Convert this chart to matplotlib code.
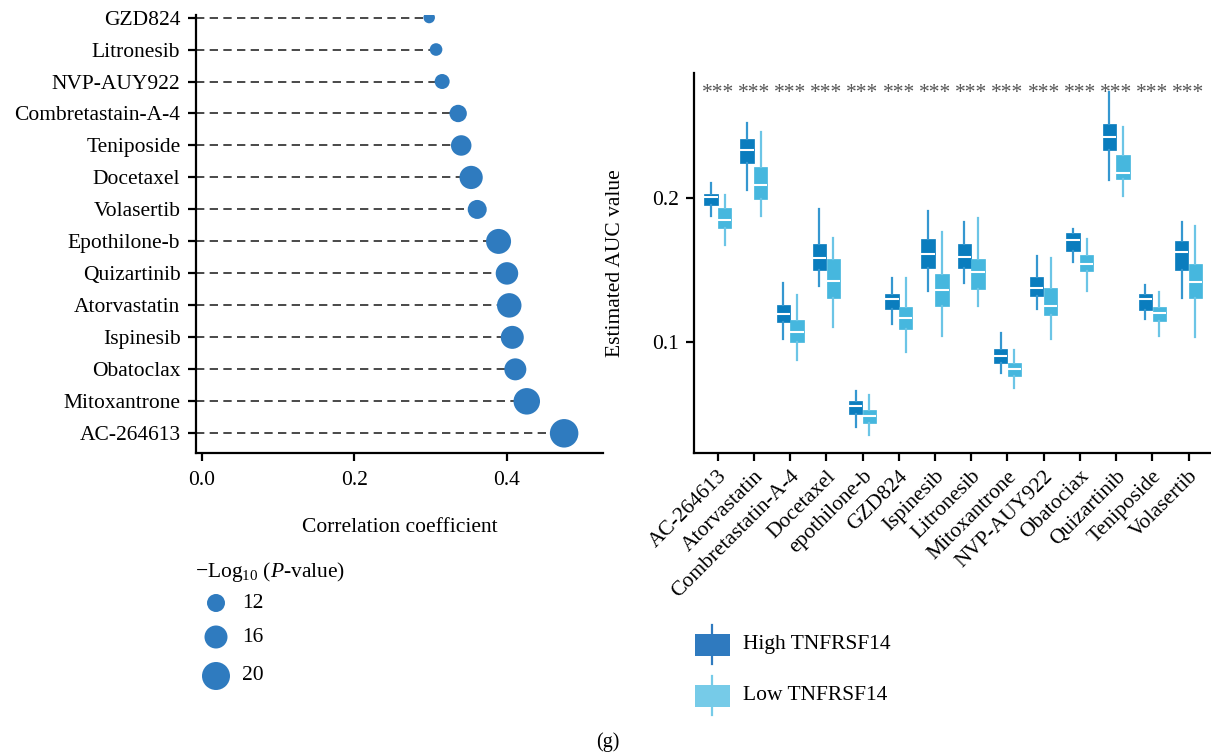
import matplotlib
matplotlib.use("Agg")
import matplotlib.pyplot as plt
import matplotlib.transforms as mtransforms
from matplotlib.patches import Rectangle

plt.rcParams["font.family"] = ["Liberation Serif", "DejaVu Serif"]
plt.rcParams["mathtext.fontset"] = "custom"
plt.rcParams["mathtext.rm"] = "Liberation Serif"
plt.rcParams["mathtext.it"] = "Liberation Serif:italic"

# ---------------------------------------------------------------------------
# Data: correlation lollipop (top to bottom)
# ---------------------------------------------------------------------------
corr_drugs = ["GZD824", "Litronesib", "NVP-AUY922", "Combretastain-A-4",
              "Teniposide", "Docetaxel", "Volasertib", "Epothilone-b",
              "Quizartinib", "Atorvastatin", "Ispinesib", "Obatoclax",
              "Mitoxantrone", "AC-264613"]
corr_values = [0.298, 0.307, 0.315, 0.336, 0.340, 0.353, 0.361, 0.389,
               0.400, 0.403, 0.407, 0.411, 0.426, 0.475]
neglog10_p = [6.8, 7.7, 9.6, 11.5, 14.0, 16.2, 12.8, 17.6,
              15.6, 17.2, 16.0, 15.2, 18.8, 20.4]
size_legend_values = [12, 16, 20]
corr_ticks = [0.0, 0.2, 0.4]

# ---------------------------------------------------------------------------
# Data: estimated AUC boxes (whislo, q1, med, q3, whishi)
# ---------------------------------------------------------------------------
auc_drugs = ["AC-264613", "Atorvastatin", "Combretastatin-A-4", "Docetaxel",
             "epothilone-b", "GZD824", "Ispinesib", "Litronesib",
             "Mitoxantrone", "NVP-AUY922", "Obatociax", "Quizartinib",
             "Teniposide", "Volasertib"]
high_whislo = [0.187, 0.205, 0.102, 0.139, 0.041, 0.112, 0.135, 0.141, 0.078, 0.123, 0.155, 0.212, 0.116, 0.130]
high_q1 = [0.195, 0.224, 0.114, 0.150, 0.050, 0.123, 0.151, 0.151, 0.085, 0.132, 0.163, 0.233, 0.122, 0.150]
high_med = [0.2007, 0.233, 0.119, 0.158, 0.0553, 0.1294, 0.161, 0.159, 0.0903, 0.137, 0.1706, 0.2424, 0.1294, 0.162]
high_q3 = [0.2025, 0.241, 0.1255, 0.168, 0.0588, 0.1331, 0.171, 0.168, 0.0949, 0.1447, 0.1755, 0.2514, 0.1331, 0.170]
high_whishi = [0.210, 0.252, 0.1405, 0.192, 0.0657, 0.144, 0.191, 0.183, 0.1058, 0.1595, 0.178, 0.2736, 0.1394, 0.1833]

low_whislo = [0.167, 0.187, 0.087, 0.110, 0.035, 0.093, 0.104, 0.125, 0.068, 0.102, 0.135, 0.201, 0.104, 0.103]
low_q1 = [0.1787, 0.1988, 0.100, 0.1306, 0.0433, 0.109, 0.1248, 0.1366, 0.0762, 0.1185, 0.1493, 0.2132, 0.1146, 0.130]
low_med = [0.1845, 0.2088, 0.1069, 0.1421, 0.0484, 0.1167, 0.1359, 0.1486, 0.0808, 0.125, 0.1539, 0.2174, 0.1201, 0.1412]
low_q3 = [0.1928, 0.2211, 0.1148, 0.1576, 0.0525, 0.1243, 0.1468, 0.1574, 0.0854, 0.1375, 0.1602, 0.2299, 0.1243, 0.1539]
low_whishi = [0.2019, 0.2454, 0.1322, 0.172, 0.063, 0.144, 0.1764, 0.1859, 0.0944, 0.1583, 0.1711, 0.2493, 0.1347, 0.1806]

signif_labels = ["***"] * len(auc_drugs)
auc_ticks = [0.1, 0.2]
group_labels = ["High TNFRSF14", "Low TNFRSF14"]

DOT_COLOR = "#2f7bbf"
HIGH_BOX, HIGH_WHISK, HIGH_LEG = "#0a7dbe", "#3597d0", "#2f7abf"
LOW_BOX, LOW_WHISK, LOW_LEG = "#46b7de", "#6cc5e6", "#76cbe8"
FS = 15.5
DPI = 100
W, H = 1211, 754


def dot_size(v):
    """Marker area (pt^2) for a -log10(P) value."""
    diam_px = 3 + 1.25 * v
    return (diam_px * 72 / DPI) ** 2


fig = plt.figure(figsize=(W / DPI, H / DPI), dpi=DPI)

# ---------------------------------------------------------------------------
# Left panel: lollipop
# ---------------------------------------------------------------------------
ax1 = fig.add_axes([195.7 / W, 1 - 453.3 / H, (603 - 195.7) / W, 438 / H])
n = len(corr_drugs)
ypos = list(range(n - 1, -1, -1))
ax1.set_xlim(-0.0083, 0.526)
ax1.set_ylim(-0.625, n - 1 + 0.07)
ax1.hlines(ypos, -0.0083, corr_values, colors="#2a2a2a", linewidth=1.2,
           linestyles=(0, (5, 3.2)), zorder=1)
ax1.scatter(corr_values, ypos, s=[dot_size(v) for v in neglog10_p],
            color=DOT_COLOR, edgecolors="none", zorder=2)
ax1.set_yticks(ypos)
ax1.set_yticklabels(corr_drugs, fontsize=FS)
ax1.set_xticks(corr_ticks)
ax1.set_xticklabels([f"{t:.1f}" for t in corr_ticks], fontsize=FS)
ax1.set_xlabel("Correlation coefficient", fontsize=FS, labelpad=20)
for side in ("top", "right"):
    ax1.spines[side].set_visible(False)
for side in ("left", "bottom"):
    ax1.spines[side].set_linewidth(1.6)
ax1.tick_params(length=6, width=1.6, pad=5)
ax1.tick_params(axis="x", pad=7)

# ---------------------------------------------------------------------------
# Right panel: boxplots
# ---------------------------------------------------------------------------
ax2 = fig.add_axes([694 / W, 1 - 453 / H, (W - 694) / W, 380 / H])
m = len(auc_drugs)
box_w, dodge = 0.37, 0.19


def make_stats(lo, q1, med, q3, hi):
    return [dict(whislo=a, q1=b, med=c, q3=d, whishi=e, fliers=[])
            for a, b, c, d, e in zip(lo, q1, med, q3, hi)]


for stats, offset, fc, wc in [
    (make_stats(high_whislo, high_q1, high_med, high_q3, high_whishi), -dodge, HIGH_BOX, HIGH_WHISK),
    (make_stats(low_whislo, low_q1, low_med, low_q3, low_whishi), dodge, LOW_BOX, LOW_WHISK),
]:
    ax2.bxp(stats, positions=[i + offset for i in range(m)], widths=box_w,
            patch_artist=True, showcaps=False, showfliers=False,
            boxprops=dict(facecolor=fc, edgecolor=fc, linewidth=0.5),
            whiskerprops=dict(color=wc, linewidth=1.6),
            medianprops=dict(color="white", linewidth=1.5),
            manage_ticks=False)

ax2.set_xlim(-0.654, 13.62)
ax2.set_ylim(0.0227, 0.2866)
ax2.set_xticks(range(m))
ax2.set_xticklabels(auc_drugs, fontsize=FS, rotation=45, ha="right",
                    va="top", rotation_mode="anchor")
ax2.set_yticks(auc_ticks)
ax2.set_yticklabels([f"{t:.1f}" for t in auc_ticks], fontsize=FS)
ax2.set_ylabel("Estimated AUC value", fontsize=FS, labelpad=19)
for side in ("top", "right"):
    ax2.spines[side].set_visible(False)
for side in ("left", "bottom"):
    ax2.spines[side].set_linewidth(1.6)
ax2.tick_params(length=6, width=1.6, pad=5)
ax2.tick_params(axis="x", pad=4)

trans = mtransforms.blended_transform_factory(ax2.transData, ax2.transAxes)
for i, lab in enumerate(signif_labels):
    ax2.text(i, 0.946, lab, transform=trans, ha="center", va="center",
             fontsize=FS, color="#555555")

# ---------------------------------------------------------------------------
# Legends and panel tag (pixel coordinates overlay)
# ---------------------------------------------------------------------------
ov = fig.add_axes([0, 0, 1, 1])
ov.set_xlim(0, W)
ov.set_ylim(H, 0)
ov.axis("off")

ov.text(195, 572, r"$-$Log$_{10}$ ($P$-value)", fontsize=FS, ha="left", va="center")
for v, yy in zip(size_legend_values, [603, 637, 676]):
    ov.scatter(216, yy, s=dot_size(v), color=DOT_COLOR, edgecolors="none")
    ov.text(242, yy, str(v), fontsize=FS, ha="left", va="center")

for lab, yc, fc in zip(group_labels, [645, 696], [HIGH_LEG, LOW_LEG]):
    ov.plot([712, 712], [yc - 20, yc + 19], color=fc, linewidth=1.6)
    ov.add_patch(Rectangle((695, yc - 11), 35, 22, facecolor=fc, edgecolor="none"))
    ov.text(743, yc, lab, fontsize=FS, ha="left", va="center")

ov.text(608, 742, "(g)", fontsize=FS - 1, ha="center", va="center")

fig.savefig("out.png", dpi=DPI)
